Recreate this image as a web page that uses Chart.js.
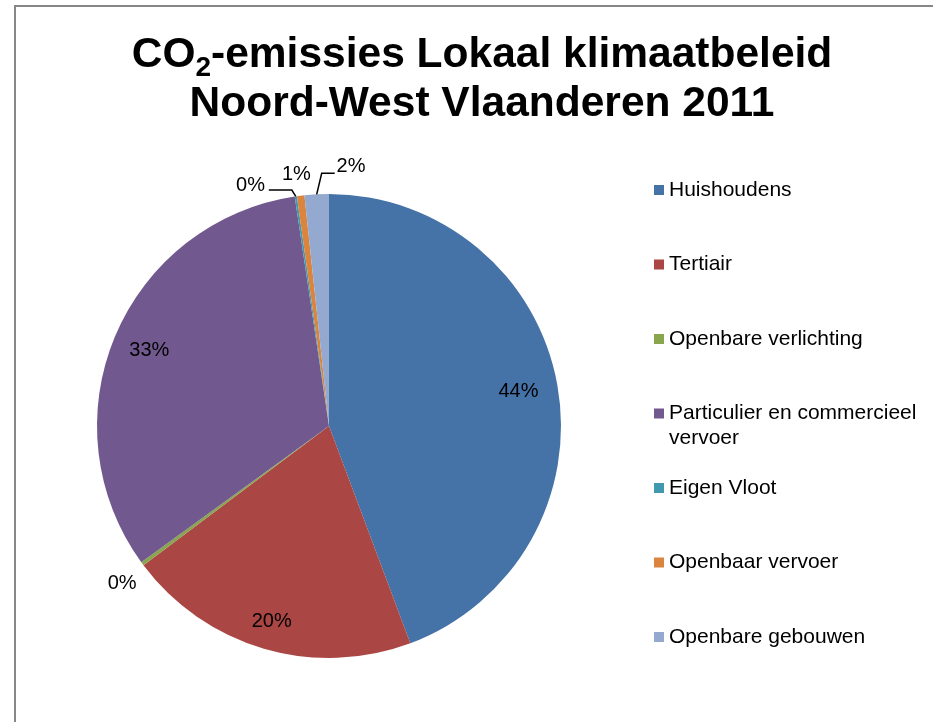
<!DOCTYPE html>
<html><head><meta charset="utf-8">
<script src="https://cdn.jsdelivr.net/npm/chart.js@4.4.0/dist/chart.umd.min.js"></script>
<style>html,body{margin:0;padding:0;background:#fff;overflow:hidden}canvas{display:block}</style>
</head><body><canvas id="c" width="933" height="722"></canvas>
<script>
// ---- data ----
const categories = ['Huishoudens','Tertiair','Openbare verlichting','Particulier en commercieel vervoer','Eigen Vloot','Openbaar vervoer','Openbare gebouwen'];
const shares = [44.3, 20.45, 0.25, 32.64, 0.15, 0.52, 1.69];
const titleLine1 = [['CO', false], ['2', true], ['-emissies Lokaal klimaatbeleid', false]];
const titleLine2 = 'Noord-West Vlaanderen 2011';

// ---- style ----
const colors = ['#4572A7','#AA4643','#89A54E','#71588F','#4198AF','#DB843D','#93A9CF'];
const FONT = '"Liberation Sans", Arial, sans-serif';
// outside label placements relative to slice edge point
const outside = {
  2: {t:[-20.3, 19.7]},
  4: {t:[-45.3, -11], lead:[[0,0],[-4,-6.4],[-27,-6.4]]},
  5: {t:[-4.2, -21.7]},
  6: {t:[34.3, -27.8], lead:[[0,0],[5,-21],[18,-21]]}
};
const insideFactor = {0:0.83, 1:0.88, 3:0.84};

const framePlugin = {
  id:'frame',
  beforeDraw(chart){
    const ctx = chart.ctx;
    ctx.save();
    ctx.fillStyle='#fff'; ctx.fillRect(0,0,chart.width,chart.height);
    ctx.strokeStyle='#878787'; ctx.lineWidth=2;
    ctx.beginPath(); ctx.moveTo(15,chart.height+2); ctx.lineTo(15,6); ctx.lineTo(chart.width+2,6); ctx.stroke();
    ctx.restore();
  }
};

const titlePlugin = {
  id:'customTitle',
  afterDraw(chart){
    const ctx = chart.ctx; const cx = 482;
    ctx.save(); ctx.fillStyle='#000'; ctx.textBaseline='alphabetic'; ctx.textAlign='left';
    const big = 'bold 42.5px '+FONT, small = 'bold 28px '+FONT;
    let w = 0;
    titleLine1.forEach(([t,sub])=>{ctx.font = sub?small:big; w += ctx.measureText(t).width;});
    let x = cx - w/2;
    titleLine1.forEach(([t,sub])=>{ctx.font = sub?small:big; ctx.fillText(t, x, sub?76:67); x += ctx.measureText(t).width;});
    ctx.font = big; ctx.textAlign='center'; ctx.fillText(titleLine2, cx, 116);
    ctx.restore();
  }
};

const legendPlugin = {
  id:'customLegend',
  afterDraw(chart){
    const ctx = chart.ctx;
    ctx.save(); ctx.font = '21px '+FONT; ctx.textBaseline='middle'; ctx.textAlign='left';
    categories.forEach((name,i)=>{
      const y = 190 + 74.5*i;
      ctx.fillStyle = colors[i]; ctx.fillRect(654, y-5, 10, 10);
      ctx.fillStyle = '#000';
      const words = name.split(' '); let line=''; let ly=y;
      words.forEach(wd=>{
        const test = line ? line+' '+wd : wd;
        if (ctx.measureText(test).width > 258 && line){ ctx.fillText(line, 669, ly); ly += 25; line = wd; }
        else line = test;
      });
      ctx.fillText(line, 669, ly);
    });
    ctx.restore();
  }
};

const labelPlugin = {
  id:'sliceLabels',
  afterDatasetsDraw(chart){
    const ctx = chart.ctx; const meta = chart.getDatasetMeta(0);
    ctx.save(); ctx.font='20px '+FONT; ctx.fillStyle='#000'; ctx.textAlign='center'; ctx.textBaseline='middle';
    ctx.strokeStyle='#000'; ctx.lineWidth=1.5;
    meta.data.forEach((arc,i)=>{
      const p = arc.getProps(['x','y','startAngle','endAngle','outerRadius'], true);
      const mid = (p.startAngle+p.endAngle)/2;
      const txt = Math.round(shares[i])+'%';
      if (!outside[i]){
        const d = p.outerRadius*(insideFactor[i]||0.85);
        ctx.fillText(txt, p.x+Math.cos(mid)*d, p.y+Math.sin(mid)*d);
      } else {
        const ax = p.x+Math.cos(mid)*p.outerRadius, ay = p.y+Math.sin(mid)*p.outerRadius;
        const o = outside[i];
        if (o.lead){
          ctx.beginPath();
          o.lead.forEach(([dx,dy],k)=>{ if(k===0) ctx.moveTo(ax+dx,ay+dy); else ctx.lineTo(ax+dx,ay+dy); });
          ctx.stroke();
        }
        ctx.fillText(txt, ax+o.t[0], ay+o.t[1]);
      }
    });
    ctx.restore();
  }
};

new Chart(document.getElementById('c'), {
  type:'pie',
  data:{ labels:categories, datasets:[{ data:shares, backgroundColor:colors, borderWidth:0 }]},
  options:{
    responsive:false, animation:false, devicePixelRatio:1,
    layout:{ padding:{ left:97, right:372, top:194, bottom:64 } },
    plugins:{ legend:{display:false}, tooltip:{enabled:false}, title:{display:false} }
  },
  plugins:[framePlugin, labelPlugin, titlePlugin, legendPlugin]
});
</script></body></html>
